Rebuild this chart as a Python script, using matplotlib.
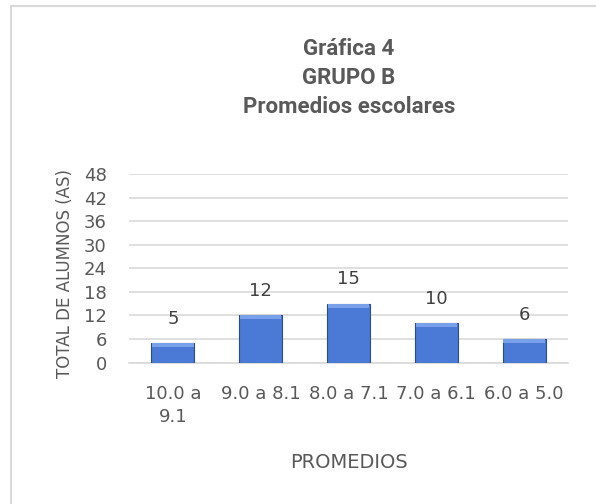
"""Gráfica 4 - Grupo B, promedios escolares"""

import matplotlib
matplotlib.use("Agg")
import matplotlib.pyplot as plt
from matplotlib.patches import Rectangle

categorias = ["10.0 a\n9.1", "9.0 a 8.1", "8.0 a 7.1", "7.0 a 6.1", "6.0 a 5.0"]
alumnos = [5, 12, 15, 10, 6]
y_ticks = [0, 6, 12, 18, 24, 30, 36, 42, 48]

plt.rcParams['font.family'] = ['DejaVu Sans']
gris = '#595959'

fig = plt.figure(figsize=(5.96, 5.04), dpi=100)
# marco del gráfico (cortado a la derecha y abajo)
fig.patches.append(Rectangle((11/596, -0.05), 1.0, 1 - 6/504 + 0.05,
                             transform=fig.transFigure, fill=False,
                             edgecolor='#D9D9D9', lw=1.5))

ax = fig.add_axes([129/596, 141.4/504, 439/596, 188.6/504])
x = list(range(len(categorias)))
ancho = 0.49
bars = ax.bar(x, alumnos, width=ancho, color='#4A7AD6', edgecolor='#2A4C8C', lw=0.8, zorder=3)
# bisel: franja clara arriba
bisel = 1.0
ax.bar(x, [bisel]*len(x), bottom=[v - bisel for v in alumnos], width=ancho*0.96,
       color='#79A1EA', lw=0, zorder=4)
for b, v in zip(bars, alumnos):
    ax.annotate(str(v), (b.get_x() + b.get_width()/2, v), xytext=(0, 11),
                textcoords='offset points', ha='center', va='bottom',
                fontsize=13, color='#404040')

ax.set_ylim(0, 48)
ax.set_xlim(-0.5, len(categorias) - 0.5)
ax.set_yticks(y_ticks)
ax.set_xticks(x)
ax.set_xticklabels(categorias, linespacing=1.35)
ax.tick_params(length=0, colors=gris, labelsize=13)
ax.tick_params(axis='x', pad=16)
ax.tick_params(axis='y', pad=16)
ax.grid(axis='y', color='#D9D9D9', lw=1.2, zorder=0)
for s in ['top', 'right', 'left']:
    ax.spines[s].set_visible(False)
ax.spines['bottom'].set_color('#D9D9D9')
ax.spines['bottom'].set_linewidth(1.2)

fig.text(65/596, 1 - 274/504, 'TOTAL DE ALUMNOS (AS)', rotation=90, ha='center', va='center',
         color=gris, fontsize=12)
fig.text(349/596, 1 - 462/504, 'PROMEDIOS', ha='center', va='center', color=gris, fontsize=14)
fig.text(349/596, 1 - 78/504, 'Gráfica 4\nGRUPO B\nPromedios escolares', ha='center', va='center',
         color=gris, fontsize=16, fontweight='bold', linespacing=1.4,
         family=['Roboto', 'DejaVu Sans'])

fig.savefig('out.png', dpi=100)
